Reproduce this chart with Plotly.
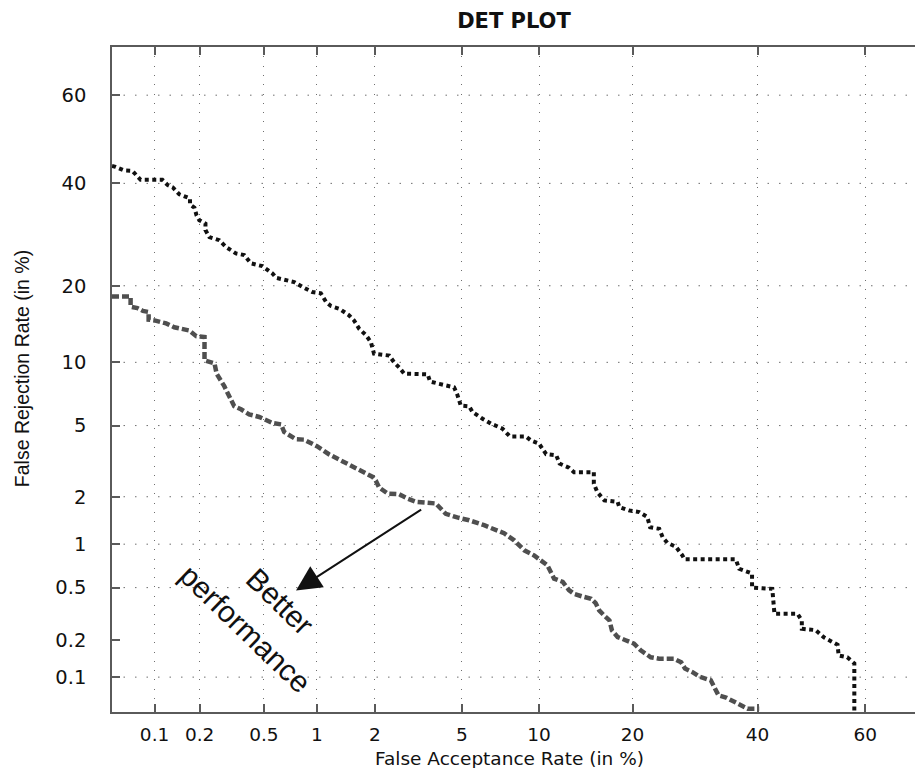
import plotly.graph_objects as go
from statistics import NormalDist

_ND = NormalDist()


def probit(pct):
    """Normal-deviate scale used by DET plots (values given in percent)."""
    return _ND.inv_cdf(pct / 100.0)


# ---------------- data (percent) ----------------
TICK_VALUES = [0.1, 0.2, 0.5, 1, 2, 5, 10, 20, 40, 60]
TICK_TEXT = ["0.1", "0.2", "0.5", "1", "2", "5", "10", "20", "40", "60"]
FRR_GRID = [0.1, 0.5, 1, 2, 5, 10, 20, 40, 60]
FAR_LIMITS = [0.05, 68.7]
FRR_LIMITS = [0.05, 70.2]

upper_far = [0.05, 0.053, 0.061, 0.070, 0.080, 0.113, 0.123, 0.133, 0.147, 0.173,
             0.173, 0.185, 0.191, 0.199, 0.218, 0.218, 0.231, 0.267, 0.294, 0.339,
             0.381, 0.418, 0.49, 0.563, 0.589, 0.671, 0.748, 0.833, 0.946, 1.05,
             1.12, 1.19, 1.32, 1.48, 1.57, 1.67, 1.81, 1.91, 1.98, 2.35,
             2.48, 2.62, 2.77, 3.55, 3.64, 4.0, 4.64, 4.79, 4.95, 5.37,
             5.54, 6.09, 6.58, 7.30, 7.80, 8.95, 9.35, 10.0, 10.3, 10.6,
             11.5, 11.8, 12.7, 13.2, 15.3, 15.3, 15.7, 16.5, 18.1, 18.3,
             19.5, 20.9, 22.0, 22.4, 23.7, 24.2, 24.9, 26.2, 27.2, 27.5,
             36.1, 36.7, 39.0, 39.0, 42.7, 43.1, 47.4, 48.2, 48.2, 50.8,
             52.4, 54.9, 55.1, 56.7, 58.0, 58.0]
upper_frr = [43.9, 43.7, 42.9, 42.8, 40.8, 40.8, 39.6, 39.1, 37.6, 36.7,
             35.4, 34.7, 33.1, 32.1, 31.4, 30.1, 28.7, 28.1, 26.8, 25.6,
             25.3, 23.8, 23.3, 22.0, 21.3, 21.0, 20.6, 19.8, 19.0, 18.8,
             17.5, 16.9, 16.5, 15.6, 14.9, 13.8, 13.0, 12.2, 10.9, 10.7,
             10.0, 9.5, 8.9, 8.85, 8.2, 8.0, 7.7, 7.1, 6.3, 6.25,
             5.86, 5.42, 5.12, 4.82, 4.39, 4.39, 4.18, 4.02, 3.73, 3.52,
             3.47, 3.12, 2.96, 2.79, 2.79, 2.39, 2.13, 1.90, 1.86, 1.73,
             1.65, 1.61, 1.50, 1.29, 1.26, 1.11, 1.02, 0.96, 0.84, 0.79,
             0.79, 0.68, 0.63, 0.50, 0.49, 0.32, 0.32, 0.285, 0.246, 0.24,
             0.21, 0.184, 0.151, 0.146, 0.13, 0.05]

lower_far = [0.05, 0.068, 0.068, 0.076, 0.083, 0.091, 0.091, 0.1, 0.12, 0.136,
             0.171, 0.190, 0.215, 0.215, 0.249, 0.257, 0.287, 0.308, 0.331, 0.364,
             0.408, 0.469, 0.514, 0.563, 0.63, 0.656, 0.765, 0.85, 1.0, 1.16,
             1.32, 1.57, 1.74, 1.95, 2.02, 2.10, 2.31, 2.62, 2.87, 3.15,
             3.86, 4.27, 4.78, 5.37, 6.18, 7.41, 8.1, 8.84, 9.6, 10.7,
             11.3, 12.1, 12.7, 13.2, 14.1, 15.0, 15.5, 15.9, 16.5, 17.1,
             17.4, 18.1, 19.1, 20.2, 21.1, 22.5, 23.7, 25.9, 27.0, 27.6,
             28.8, 29.9, 31.8, 32.5, 33.1, 34.4, 35.5, 36.7, 38.2, 40.3]
lower_frr = [18.3, 18.3, 16.8, 16.6, 16.2, 16.05, 15.0, 14.9, 14.5, 14.0,
             13.6, 12.9, 12.8, 10.2, 9.9, 8.9, 7.8, 7.06, 6.25, 6.04,
             5.70, 5.53, 5.32, 5.15, 5.07, 4.63, 4.24, 4.22, 3.89, 3.52,
             3.28, 2.98, 2.79, 2.62, 2.50, 2.27, 2.09, 2.07, 1.95, 1.86,
             1.82, 1.57, 1.49, 1.43, 1.33, 1.18, 1.06, 0.91, 0.84, 0.72,
             0.58, 0.55, 0.48, 0.45, 0.43, 0.415, 0.385, 0.34, 0.31, 0.285,
             0.239, 0.212, 0.20, 0.188, 0.166, 0.146, 0.142, 0.142, 0.133, 0.118,
             0.110, 0.101, 0.094, 0.082, 0.070, 0.067, 0.063, 0.058, 0.0535, 0.0535]

# annotation anchor points (percent)
ARROW_TAIL = (3.37, 1.69)
ARROW_TIP = (0.766, 0.477)
LABEL_BETTER = (0.62, 0.395)
LABEL_PERF = (0.385, 0.245)

# ---------------- figure ----------------
AXIS_COLOR = "#5a5a5a"
GRID_COLOR = "#6e6e6e"
TEXT_COLOR = "#111111"

fig = go.Figure()
fig.add_trace(go.Scatter(
    x=[probit(v) for v in upper_far], y=[probit(v) for v in upper_frr],
    mode="lines", line=dict(color="#111111", width=4, dash="4px,3.5px"),
    showlegend=False, hoverinfo="skip"))
fig.add_trace(go.Scatter(
    x=[probit(v) for v in lower_far], y=[probit(v) for v in lower_frr],
    mode="lines", line=dict(color="#4f4f4f", width=4.5, dash="7px,3px"),
    showlegend=False, hoverinfo="skip"))

# horizontal grid (no line at 0.2 in the reference)
shapes = [dict(type="line", xref="paper", x0=0, x1=1, yref="y",
               y0=probit(v), y1=probit(v), layer="below",
               line=dict(color=GRID_COLOR, width=1, dash="1.5px,10px"))
          for v in FRR_GRID]

annotations = [
    dict(x=probit(ARROW_TIP[0]), y=probit(ARROW_TIP[1]), xref="x", yref="y",
         ax=probit(ARROW_TAIL[0]), ay=probit(ARROW_TAIL[1]), axref="x", ayref="y",
         text="", showarrow=True, arrowhead=2, arrowsize=2.5, arrowwidth=2,
         arrowcolor="#111111"),
    dict(x=probit(LABEL_BETTER[0]), y=probit(LABEL_BETTER[1]), xref="x", yref="y",
         text="Better", showarrow=False, textangle=44,
         font=dict(family="Liberation Sans", size=30, color=TEXT_COLOR)),
    dict(x=probit(LABEL_PERF[0]), y=probit(LABEL_PERF[1]), xref="x", yref="y",
         text="performance", showarrow=False, textangle=44,
         font=dict(family="Liberation Sans", size=30, color=TEXT_COLOR)),
    dict(x=0.4956, y=-0.0692, xref="paper", yref="paper", xanchor="center",
         yanchor="middle", text="False Acceptance Rate (in %)", showarrow=False,
         font=dict(family="DejaVu Sans", size=18.5, color=TEXT_COLOR)),
    dict(x=-0.1121, y=0.517, xref="paper", yref="paper", xanchor="center",
         yanchor="middle", text="False Rejection Rate (in %)", showarrow=False,
         textangle=-90,
         font=dict(family="Liberation Sans", size=19.5, color=TEXT_COLOR)),
]

fig.update_layout(
    width=915, height=768,
    margin=dict(l=112, r=0, t=47, b=56, pad=0),
    paper_bgcolor="white", plot_bgcolor="white",
    title=dict(text="DET PLOT", x=514 / 915, y=1 - 21 / 768, xref="container",
               yref="container", xanchor="center", yanchor="middle",
               font=dict(family="DejaVu Sans", size=21, color=TEXT_COLOR,
                         weight="bold")),
    shapes=shapes, annotations=annotations, showlegend=False,
)
fig.update_xaxes(
    range=[probit(FAR_LIMITS[0]), probit(FAR_LIMITS[1])],
    tickmode="array", tickvals=[probit(v) for v in TICK_VALUES], ticktext=TICK_TEXT,
    showline=True, linecolor=AXIS_COLOR, linewidth=1.5, mirror="ticks",
    ticks="inside", ticklen=8, tickwidth=1.5, tickcolor=AXIS_COLOR,
    showgrid=True, gridcolor=GRID_COLOR, gridwidth=1, griddash="1px,8.3px",
    zeroline=False, ticklabelstandoff=5,
    tickfont=dict(family="DejaVu Sans", size=18.5, color=TEXT_COLOR),
)
fig.update_yaxes(
    range=[probit(FRR_LIMITS[0]), probit(FRR_LIMITS[1])],
    tickmode="array", tickvals=[probit(v) for v in TICK_VALUES], ticktext=TICK_TEXT,
    showline=True, linecolor=AXIS_COLOR, linewidth=1.5, mirror=False,
    ticks="inside", ticklen=8, tickwidth=1.5, tickcolor=AXIS_COLOR,
    showgrid=False, zeroline=False, ticklabelstandoff=20,
    tickfont=dict(family="DejaVu Sans", size=19.5, color=TEXT_COLOR),
)

fig.write_html("out.html")
